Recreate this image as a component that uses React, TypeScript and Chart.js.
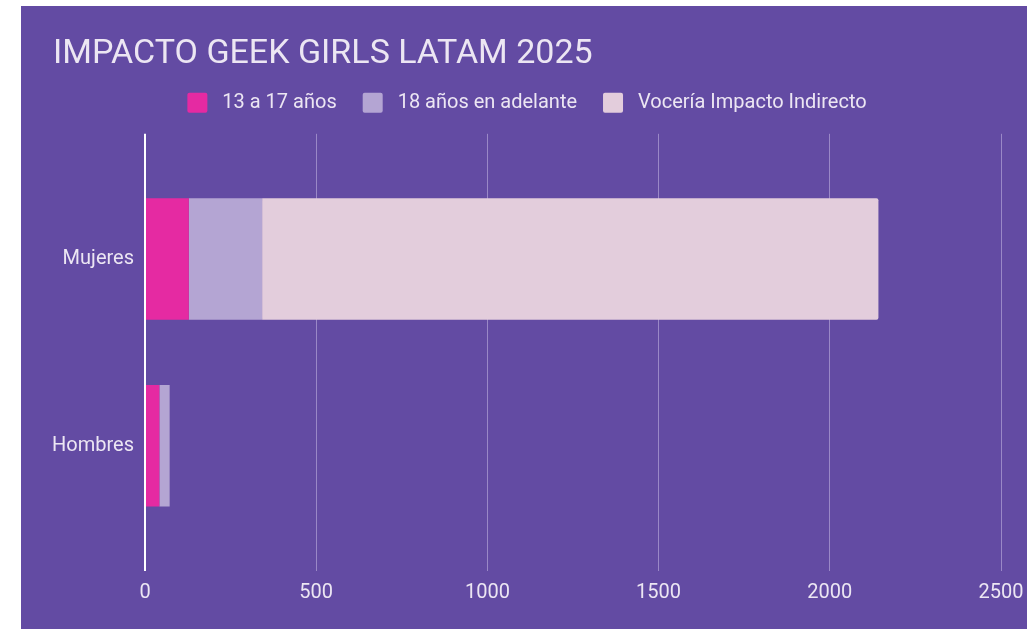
import React, { useEffect, useRef } from "react";
import { Chart, registerables } from "chart.js";

Chart.register(...registerables);

const title = "IMPACTO GEEK GIRLS LATAM 2025";
const categories = ["Mujeres", "Hombres"];
const seriesNames = ["13 a 17 años", "18 años en adelante", "Vocería Impacto Indirecto"];
const teen = [128, 42];
const adult = [214, 30];
const indirect = [1800, 0];
const xMax = 2500;
const xStep = 500;

const colors = ["#e52aa2", "#b4a5d3", "#e3cddc"];
const textColor = "#ece6f3";

const titleIndent = {
  id: "titleIndent",
  afterLayout(chart: any) {
    if (chart.titleBlock) chart.titleBlock.left += 26;
  },
};

export default function App() {
  const ref = useRef<HTMLCanvasElement | null>(null);
  useEffect(() => {
    if (!ref.current) return;
    const toPts = (arr: number[]) => arr.map((v, i) => ({ x: v, y: i }));
    const series = [teen, adult, indirect];
    const chart = new Chart(ref.current, {
      type: "bar",
      plugins: [titleIndent],
      data: {
        datasets: series.map((s, k) => ({
          label: seriesNames[k],
          data: toPts(s),
          backgroundColor: colors[k],
          borderWidth: 0,
          borderRadius: k === 2 ? 2 : 0,
          categoryPercentage: 1,
          barPercentage: 0.65,
        })),
      },
      options: {
        indexAxis: "y",
        animation: false,
        responsive: true,
        maintainAspectRatio: false,
        layout: { padding: { left: 6, right: 0, top: 0, bottom: 14 } },
        plugins: {
          title: {
            display: true,
            text: title,
            align: "start",
            color: textColor,
            font: { family: "Roboto", size: 34, weight: "normal", lineHeight: 0.7 },
            padding: { top: 37, bottom: 0 },
          },
          subtitle: {
            display: true,
            text: "",
            position: "top",
            weight: 500,
            font: { size: 1, lineHeight: 1 },
            padding: { top: 0, bottom: 10 },
          },
          legend: {
            display: true,
            labels: {
              color: textColor,
              font: { family: "Roboto", size: 20 },
              boxWidth: 20,
              boxHeight: 20,
              padding: 26,
              useBorderRadius: true,
              borderRadius: 2,
              generateLabels: (ch: any) =>
                Chart.defaults.plugins.legend.labels.generateLabels(ch).map((it: any) => ({
                  ...it,
                  text: " " + it.text,
                })),
            },
          },
          tooltip: { enabled: false },
        },
        scales: {
          x: {
            type: "linear",
            stacked: true,
            min: 0,
            max: xMax,
            afterFit: (scale: any) => {
              scale.paddingRight = 26;
            },
            ticks: {
              stepSize: xStep,
              color: textColor,
              font: { family: "Roboto", size: 20 },
              padding: 10,
              callback: (v: any) => String(v),
            },
            grid: {
              drawTicks: false,
              color: (c: any) => (c.tick && c.tick.value === 0 ? "#ffffff" : "rgba(200,188,230,0.55)"),
              lineWidth: (c: any) => (c.tick && c.tick.value === 0 ? 2 : 1),
            },
            border: { display: false },
          },
          y: {
            type: "linear",
            stacked: true,
            reverse: true,
            offset: false,
            min: -0.67,
            max: 1.67,
            afterBuildTicks: (scale: any) => {
              scale.ticks = categories.map((_, i) => ({ value: i }));
            },
            afterFit: (scale: any) => {
              scale.width = Math.max(scale.width, 118);
            },
            ticks: {
              color: textColor,
              font: { family: "Roboto", size: 20 },
              padding: 11,
              callback: (v: any) => categories[v] ?? "",
            },
            grid: { display: false, drawTicks: false },
            border: { display: false },
          },
        },
      } as any,
    });
    return () => chart.destroy();
  }, []);

  return (
    <div
      style={{
        position: "absolute",
        left: 21,
        top: 6,
        width: 1006,
        height: 623,
        background: "#634ba3",
      }}
    >
      <canvas ref={ref} />
    </div>
  );
}
